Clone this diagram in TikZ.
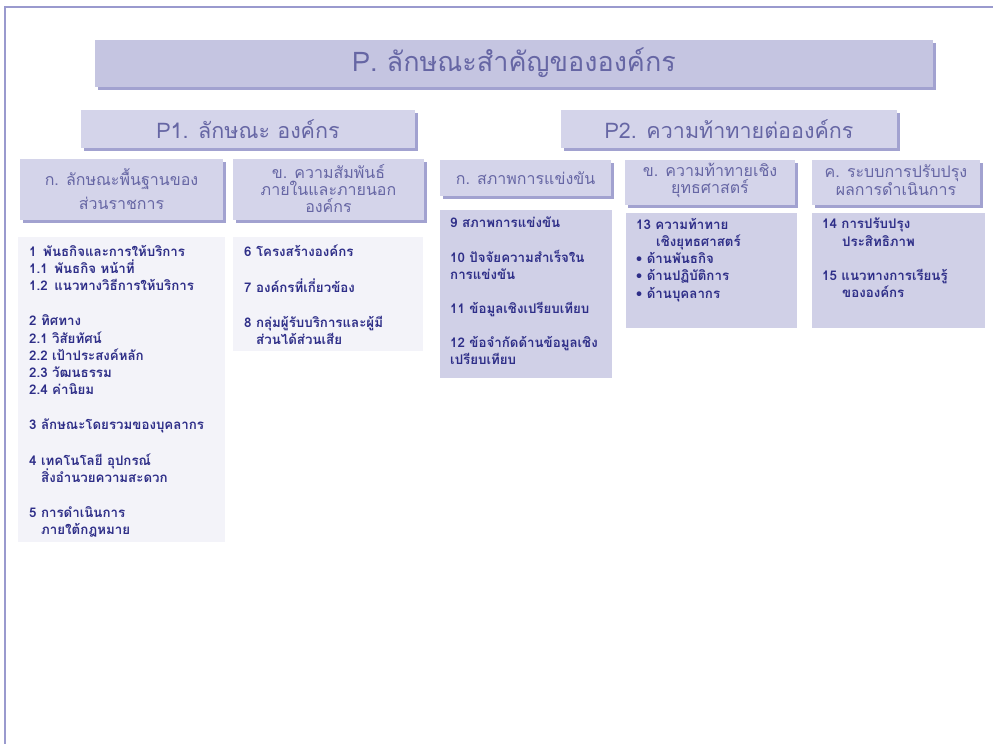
\documentclass[tikz,border=0pt]{standalone}
\usepackage{fontspec}
\usetikzlibrary{shadows}
\newfontfamily\thaifont[Script=Thai]{Loma}
\definecolor{framec}{HTML}{9A9ACE}
\definecolor{titlefill}{HTML}{C5C5E1}
\definecolor{headfill}{HTML}{D4D4EA}
\definecolor{shadowc}{HTML}{A2A2D0}
\definecolor{lightfill}{HTML}{F3F3F9}
\definecolor{darkfill}{HTML}{D0D0E7}
\definecolor{headtext}{HTML}{6666A4}
\definecolor{bodytext}{HTML}{2E2E88}
\tikzset{
  boxbase/.style={anchor=north west, inner sep=0pt, outer sep=0pt},
  titlebox/.style={boxbase, fill=titlefill,
    drop shadow={shadow xshift=2.5pt, shadow yshift=-2.5pt, fill=shadowc, opacity=1}},
  headbox/.style={boxbase, fill=headfill,
    drop shadow={shadow xshift=2.5pt, shadow yshift=-2.5pt, fill=shadowc, opacity=1}},
  lightbox/.style={boxbase, fill=lightfill},
  darkbox/.style={boxbase, fill=darkfill},
  headlabel/.style={text=headtext, font=\thaifont\fontsize{16}{17}\selectfont, align=center, inner sep=0pt},
  bodylabel/.style={anchor=north west, text=bodytext, inner sep=0pt,
    font=\thaifont\bfseries\fontsize{13.3}{17.2}\selectfont, align=left},
}
\begin{document}
\begin{tikzpicture}[x=1pt,y=-1pt]
\useasboundingbox (0,0) rectangle (993,744);
% page frame (left and top rules)
\draw[framec, line width=2pt] (5,744) -- (5,7) -- (993,7);

% main title
\node[titlebox, minimum width=838pt, minimum height=47pt] (title) at (95,40) {};
\node[text=headtext, font=\thaifont\fontsize{27}{30}\selectfont, inner sep=0pt] (titletext) at ([yshift=1pt]title.center) {P. ลักษณะสำคัญขององค์กร};

% section headers
\node[headbox, minimum width=334pt, minimum height=38pt] (p1) at (81,110) {};
\node[text=headtext, font=\thaifont\fontsize{21.5}{24}\selectfont, inner sep=0pt] (p1text) at (p1.center) {P1. ลักษณะ องค์กร};
\node[headbox, minimum width=336pt, minimum height=38pt] (p2) at (561,110) {};
\node[text=headtext, font=\thaifont\fontsize{21.5}{24}\selectfont, inner sep=0pt] (p2text) at (p2.center) {P2. ความท้าทายต่อองค์กร};

% P1 sub-headers
\node[headbox, minimum width=203pt, minimum height=61pt] (h1) at (20,159) {};
\node[headlabel, font=\thaifont\fontsize{16}{24}\selectfont] (h1text) at (h1.center) {ก. ลักษณะพื้นฐานของ\\ส่วนราชการ};
\node[headbox, minimum width=191pt, minimum height=61pt] (h2) at (233,159) {};
\node[headlabel] (h2text) at ([yshift=1pt]h2.center) {ข. ความสัมพันธ์\\ภายในและภายนอก\\องค์กร};

% P2 sub-headers
\node[headbox, minimum width=171pt, minimum height=36pt] (h3) at (440,160) {};
\node[headlabel] (h3text) at (h3.center) {ก. สภาพการแข่งขัน};
\node[headbox, minimum width=170pt, minimum height=45pt] (h4) at (625,160) {};
\node[headlabel] (h4text) at ([yshift=2pt]h4.center) {ข. ความท้าทายเชิง\\ยุทธศาสตร์};
\node[headbox, minimum width=168pt, minimum height=45pt] (h5) at (812,160) {};
\node[headlabel] (h5text) at ([yshift=2pt]h5.center) {ค. ระบบการปรับปรุง\\ผลการดำเนินการ};

% P1 content panels
\node[lightbox, minimum width=207pt, minimum height=305pt] (c1) at (18,237) {};
\node[bodylabel] (c1text) at ([xshift=11pt,yshift=-8pt]c1.north west) {%
1\enspace พันธกิจและการให้บริการ\\
1.1\enspace พันธกิจ หน้าที่\\
1.2\enspace แนวทางวิธีการให้บริการ\\[18pt]
2 ทิศทาง\\
2.1 วิสัยทัศน์\\
2.2 เป้าประสงค์หลัก\\
2.3 วัฒนธรรม\\
2.4 ค่านิยม\\[18pt]
3 ลักษณะโดยรวมของบุคลากร\\[18pt]
4 เทคโนโลยี อุปกรณ์\\
\hspace*{12pt}สิ่งอำนวยความสะดวก\\[18pt]
5 การดำเนินการ\\
\hspace*{12pt}ภายใต้กฎหมาย};

\node[lightbox, minimum width=190pt, minimum height=114pt] (c2) at (233,237) {};
\node[bodylabel] (c2text) at ([xshift=11pt,yshift=-8pt]c2.north west) {%
6 โครงสร้างองค์กร\\[18pt]
7 องค์กรที่เกี่ยวข้อง\\[18pt]
8 กลุ่มผู้รับบริการและผู้มี\\
\hspace*{12pt}ส่วนได้ส่วนเสีย};

% P2 content panels
\node[darkbox, minimum width=172pt, minimum height=168pt] (c3) at (440,210) {};
\node[bodylabel] (c3text) at ([xshift=10pt,yshift=-7pt]c3.north west) {%
9 สภาพการแข่งขัน\\[17pt]
10 ปัจจัยความสำเร็จใน\\
การแข่งขัน\\[17pt]
11 ข้อมูลเชิงเปรียบเทียบ\\[17pt]
12 ข้อจำกัดด้านข้อมูลเชิง\\
เปรียบเทียบ};

\node[darkbox, minimum width=171pt, minimum height=115pt] (c4) at (626,213) {};
\node[bodylabel] (c4text) at ([xshift=10pt,yshift=-5pt]c4.north west) {%
13 ความท้าทาย\\
\hspace*{20pt}เชิงยุทธศาสตร์\\
• ด้านพันธกิจ\\
• ด้านปฏิบัติการ\\
• ด้านบุคลากร};

\node[darkbox, minimum width=173pt, minimum height=115pt] (c5) at (812,213) {};
\node[bodylabel] (c5text) at ([xshift=10pt,yshift=-5pt]c5.north west) {%
14 การปรับปรุง\\
\hspace*{20pt}ประสิทธิภาพ\\[17pt]
15 แนวทางการเรียนรู้\\
\hspace*{20pt}ขององค์กร};
\end{tikzpicture}
\end{document}
